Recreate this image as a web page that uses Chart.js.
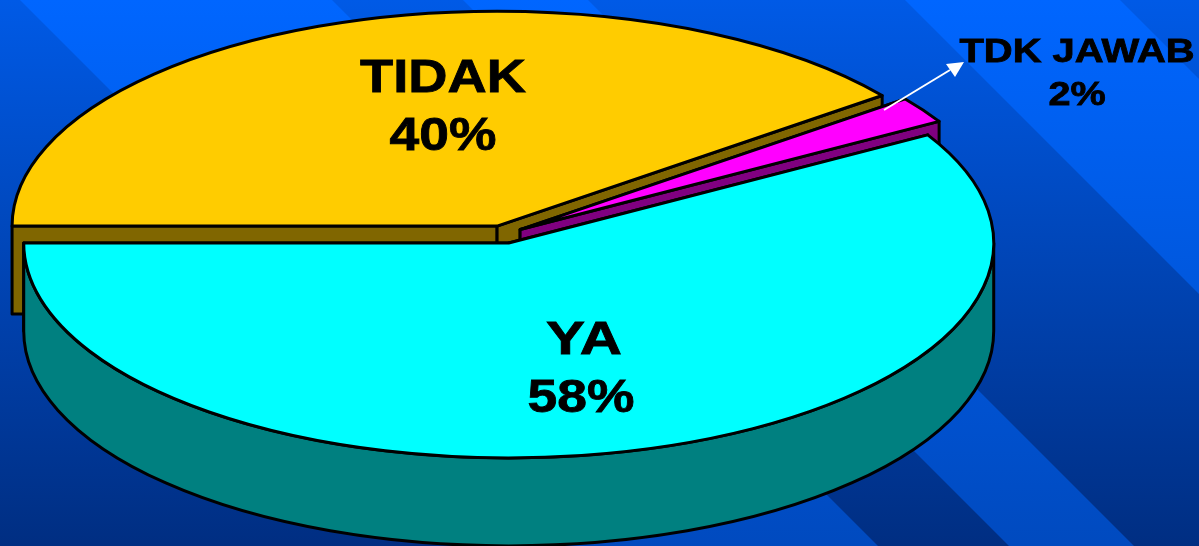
<!DOCTYPE html>
<html>
<head>
<meta charset="utf-8">
<style>
  html, body { margin: 0; padding: 0; background: #0050c8; overflow: hidden; }
  canvas { display: block; }
</style>
<script src="https://cdn.jsdelivr.net/npm/chart.js@4/dist/chart.umd.js"></script>
</head>
<body>
<canvas id="pie" width="1199" height="546"></canvas>
<script>
// data, the labels on the picture are these values rounded
const categories = ['TIDAK', 'TDK JAWAB', 'YA'];
const seriesValues = [39.6, 2, 58.4];
const topColors = ['#ffcc00', '#ff00ff', '#00ffff'];
const wallColors = ['#806600', '#800080', '#008080'];

// 3d look of the pie
const SQUASH = 0.443;
const DEPTH = 88;
const LINE = 3;

// dark diagonal bands, as ranges of (x - y)
const darkBands = [[-600, 20], [332, 463], [588, 905], [1120, 1300]];

function slicePath(ctx, cx, cy, r, a0, a1) {
    ctx.beginPath();
    ctx.moveTo(cx, cy);
    ctx.ellipse(cx, cy, r, r * SQUASH, 0, a0, a1);
    ctx.closePath();
}

function drawFace(ctx, cx, cy, r, a, fill) {
    const px = cx + Math.cos(a) * r;
    const py = cy + Math.sin(a) * r * SQUASH;
    ctx.beginPath();
    ctx.moveTo(cx, cy);
    ctx.lineTo(px, py);
    ctx.lineTo(px, py + DEPTH);
    ctx.lineTo(cx, cy + DEPTH);
    ctx.closePath();
    ctx.fillStyle = fill;
    ctx.fill();
    ctx.stroke();
}

function drawWall(ctx, cx, cy, r, a0, a1, fill) {
    const from = Math.max(a0, 0);
    const to = Math.min(a1, Math.PI);
    if (from >= to) return;
    ctx.beginPath();
    ctx.ellipse(cx, cy, r, r * SQUASH, 0, from, to);
    ctx.ellipse(cx, cy + DEPTH, r, r * SQUASH, 0, to, from, true);
    ctx.closePath();
    ctx.fillStyle = fill;
    ctx.fill();
    ctx.stroke();
}

const backdrop = {
    id: 'backdrop',
    beforeDraw(chart) {
        const { ctx, width, height } = chart;
        const light = ctx.createLinearGradient(0, 0, 0, height);
        light.addColorStop(0, '#0066ff');
        light.addColorStop(1, '#004abf');
        const dark = ctx.createLinearGradient(0, 0, 0, height);
        dark.addColorStop(0, '#005ae6');
        dark.addColorStop(1, '#002e82');
        ctx.save();
        ctx.fillStyle = light;
        ctx.fillRect(0, 0, width, height);
        ctx.fillStyle = dark;
        darkBands.forEach(([d0, d1]) => {
            ctx.beginPath();
            ctx.moveTo(d0, 0);
            ctx.lineTo(d1, 0);
            ctx.lineTo(d1 + height, height);
            ctx.lineTo(d0 + height, height);
            ctx.closePath();
            ctx.fill();
        });
        ctx.restore();
    }
};

// the arcs come from chart.js, they just get squashed and given a side wall
const pie3d = {
    id: 'pie3d',
    beforeDatasetsDraw(chart) {
        const { ctx } = chart;
        const arcs = chart.getDatasetMeta(0).data;
        arcs.forEach((arc, i) => {
            const off = arc.options.offset / 4;
            const mid = (arc.startAngle + arc.endAngle) / 2;
            const r = arc.outerRadius + off;
            const cx = arc.x + Math.cos(mid) * off;
            const cy = arc.y + Math.sin(mid) * off * SQUASH;

            ctx.save();
            ctx.lineWidth = LINE;
            ctx.strokeStyle = '#000';
            ctx.lineJoin = 'round';
            drawFace(ctx, cx, cy, r, arc.startAngle, wallColors[i]);
            drawFace(ctx, cx, cy, r, arc.endAngle, wallColors[i]);
            drawWall(ctx, cx, cy, r, arc.startAngle, arc.endAngle, wallColors[i]);

            slicePath(ctx, cx, cy, r, arc.startAngle, arc.endAngle);
            ctx.fillStyle = arc.options.backgroundColor;
            ctx.fill();
            ctx.stroke();
            ctx.restore();
        });
        return false;
    }
};

function wideText(ctx, text, x, y, px, stretch) {
    ctx.save();
    ctx.translate(x, y);
    ctx.scale(stretch, 1);
    ctx.font = 'bold ' + px + 'px "Liberation Sans", Arial, sans-serif';
    ctx.textAlign = 'center';
    ctx.textBaseline = 'middle';
    ctx.fillStyle = '#000';
    ctx.strokeStyle = '#000';
    ctx.lineWidth = 0.8;
    ctx.fillText(text, 0, 0);
    ctx.strokeText(text, 0, 0);
    ctx.restore();
}

const labels3d = {
    id: 'labels3d',
    afterDraw(chart) {
        const { ctx } = chart;
        const pct = seriesValues.map(v => Math.round(v) + '%');

        wideText(ctx, categories[0], 443, 79, 46, 1.18);
        wideText(ctx, pct[0], 443, 137, 46, 1.16);
        wideText(ctx, categories[2], 584, 341, 46, 1.27);
        wideText(ctx, pct[2], 581, 399, 46, 1.16);
        wideText(ctx, categories[1], 1077, 53, 33, 1.21);
        wideText(ctx, pct[1], 1077, 96, 33, 1.2);

        // white arrow to the small slice
        ctx.save();
        ctx.strokeStyle = '#fff';
        ctx.fillStyle = '#fff';
        ctx.lineWidth = 2;
        ctx.beginPath();
        ctx.moveTo(884, 110);
        ctx.lineTo(950, 70);
        ctx.stroke();
        ctx.beginPath();
        ctx.moveTo(964, 62);
        ctx.lineTo(946, 64);
        ctx.lineTo(955, 77);
        ctx.closePath();
        ctx.fill();
        ctx.restore();
    }
};

new Chart(document.getElementById('pie'), {
    type: 'pie',
    data: {
        labels: categories,
        datasets: [{
            data: seriesValues,
            backgroundColor: topColors,
            borderWidth: 0,
            offset: 80
        }]
    },
    options: {
        responsive: false,
        animation: false,
        rotation: -90,
        radius: 465,
        layout: { padding: { right: 192, bottom: 77 } },
        plugins: { legend: { display: false }, tooltip: { enabled: false } }
    },
    plugins: [backdrop, pie3d, labels3d]
});
</script>
</body>
</html>
